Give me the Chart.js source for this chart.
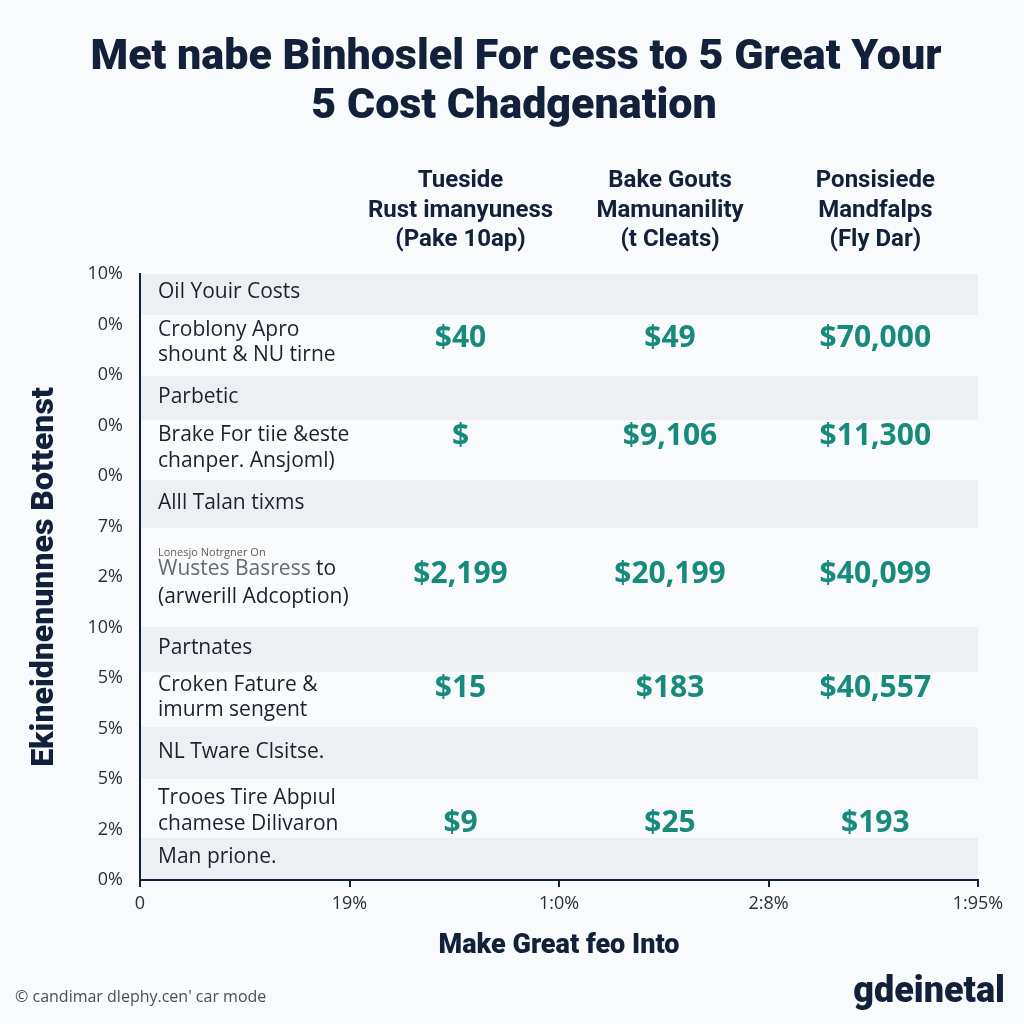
<!DOCTYPE html>
<html>
<head>
<meta charset="utf-8">
<script src="https://cdn.jsdelivr.net/npm/chart.js@4.4.1/dist/chart.umd.min.js"></script>
<style>
  html, body { margin: 0; padding: 0; background: #f8fafc; }
  #wrap { width: 1024px; height: 1024px; }
</style>
</head>
<body>
<div id="wrap"><canvas id="costChart" width="1024" height="1024"></canvas></div>
<script>
const titleLines = ["Met nabe Binhoslel For cess to 5 Great Your", "5 Cost Chadgenation"];
const yTicks = ["10%", "0%", "0%", "0%", "0%", "7%", "2%", "10%", "5%", "5%", "5%", "2%", "0%"];
const xTicks = ["0", "19%", "1:0%", "2:8%", "1:95%"];

const headers = [
  ["Tueside", "Rust imanyuness", "(Pake 10ap)"],
  ["Bake Gouts", "Mamunanility", "(t Cleats)"],
  ["Ponsisiede", "Mandfalps", "(Fly Dar)"]
];
const colPos = [1.53, 2.53, 3.51];

// value rows (y in row units)
const valueRowPos = [1.27, 3.21, 5.94, 8.20, 10.89];
const col1Values = ["$40", "$", "$2,199", "$15", "$9"];
const col2Values = ["$49", "$9,106", "$20,199", "$183", "$25"];
const col3Values = ["$70,000", "$11,300", "$40,099", "$40,557", "$193"];

// shaded rows
const bandTop = [0, 2.02, 4.08, 6.99, 8.97, 11.17];
const bandBottom = [0.81, 2.89, 5.03, 7.88, 10.0, 12];

const rowLabels = ["Oil Youir Costs", "Croblony Apro", "shount & NU tirne", "Parbetic", "Brake For tiie &este",
  "chanper. Ansjoml)", "Alll Talan tixms", "Wustes Basress |to", "(arwerill Adcoption)", "Partnates",
  "Croken Fature &", "imurm sengent", "NL Tware Clsitse.", "Trooes Tire Abpıul", "chamese Dilivaron", "Man prione."];
const rowLabelPos = [0.36, 1.11, 1.60, 2.44, 3.19, 3.70, 4.53, 5.84, 6.40, 7.41, 8.14, 8.63, 9.47, 10.38, 10.89, 11.54];
const noteText = "Lonesjo Notrgner On";
const notePos = 5.52;

const NAVY = "#13203a";
const TEAL = "#168a7b";

const datasets = [];
bandTop.forEach((t, i) => {
  datasets.push({ data: [{x: 0, y: t}, {x: 4, y: t}], borderWidth: 0, borderColor: "transparent", pointRadius: 0, fill: false });
  datasets.push({ data: [{x: 0, y: bandBottom[i]}, {x: 4, y: bandBottom[i]}], borderWidth: 0, borderColor: "transparent",
    pointRadius: 0, fill: "-1", backgroundColor: "#edf0f3" });
});

const tableText = {
  id: "tableText",
  afterDraw(chart) {
    const {ctx, scales: {x, y}} = chart;
    ctx.save();
    ctx.textBaseline = "middle";

    // title
    ctx.textAlign = "center";
    ctx.fillStyle = NAVY;
    ctx.font = "900 43px Roboto";
    ctx.fillText(titleLines[0], 516, 58);
    ctx.fillText(titleLines[1], 514, 107);

    // column headers
    ctx.font = "bold 24px Roboto";
    headers.forEach((lines, c) => {
      lines.forEach((t, k) => ctx.fillText(t, x.getPixelForValue(colPos[c]), 181 + k * 29.5));
    });

    // row labels
    ctx.textAlign = "left";
    const lx = x.getPixelForValue(0) + 18;
    ctx.font = "21px 'Open Sans'";
    rowLabels.forEach((t, i) => {
      const py = y.getPixelForValue(rowLabelPos[i]);
      const parts = t.split("|");
      if (parts.length > 1) {
        ctx.fillStyle = "#666a72";
        ctx.fillText(parts[0], lx, py);
        const w = ctx.measureText(parts[0]).width;
        ctx.fillStyle = "#1c2130";
        ctx.fillText(parts[1], lx + w, py);
      } else {
        ctx.fillStyle = "#1c2130";
        ctx.fillText(t, lx, py);
      }
    });
    ctx.font = "11px 'Open Sans'";
    ctx.fillStyle = "#6b5a5c";
    ctx.fillText(noteText, lx, y.getPixelForValue(notePos));

    // values
    ctx.textAlign = "center";
    ctx.fillStyle = TEAL;
    ctx.font = "bold 30px 'Open Sans'";
    [col1Values, col2Values, col3Values].forEach((vals, c) => {
      vals.forEach((v, r) => ctx.fillText(v, x.getPixelForValue(colPos[c]), y.getPixelForValue(valueRowPos[r])));
    });

    // footer
    ctx.textAlign = "left";
    ctx.fillStyle = "#4a4f57";
    ctx.font = "16px 'Open Sans'";
    ctx.fillText("\u00a9 candimar dlephy.cen' car mode", 15, 997);
    ctx.textAlign = "right";
    ctx.fillStyle = NAVY;
    ctx.font = "900 36px Roboto";
    ctx.fillText("gdeinetal", 1005, 993);
    ctx.restore();
  }
};

new Chart(document.getElementById("costChart"), {
  type: "line",
  data: { datasets },
  options: {
    responsive: false,
    animation: false,
    events: [],
    layout: { padding: { top: 274, right: 46, bottom: 60, left: 0 } },
    plugins: { legend: { display: false }, tooltip: { enabled: false } },
    scales: {
      x: {
        type: "linear", min: 0, max: 4, z: 1,
        ticks: { stepSize: 1, autoSkip: false, maxRotation: 0, padding: 6,
          callback: v => xTicks[v], color: "#2b2f38", font: { family: "Open Sans", size: 18 } },
        grid: { drawOnChartArea: false, color: NAVY, tickLength: 7, lineWidth: 2 },
        border: { color: NAVY, width: 2, z: 1 },
        title: { display: true, text: "Make Great feo Into", color: NAVY,
          font: { family: "Roboto", weight: "900", size: 27 }, padding: { top: 10, bottom: 2 } },
        afterFit(s) { s.height = 84; }
      },
      y: {
        type: "linear", min: 0, max: 12, reverse: true, z: 1,
        ticks: { stepSize: 1, autoSkip: false, padding: 17,
          callback: v => yTicks[v], color: "#2b2f38", font: { family: "Open Sans", size: 18 } },
        grid: { display: false, drawTicks: false },
        border: { color: NAVY, width: 2, z: 1 },
        title: { display: true, text: "Ekineidnenunnes Bottenst", color: NAVY,
          font: { family: "Roboto", weight: "900", size: 32 }, padding: { top: 26, bottom: 0 } },
        afterFit(s) { s.width = 140; }
      }
    }
  },
  plugins: [tableText]
});
</script>
</body>
</html>
